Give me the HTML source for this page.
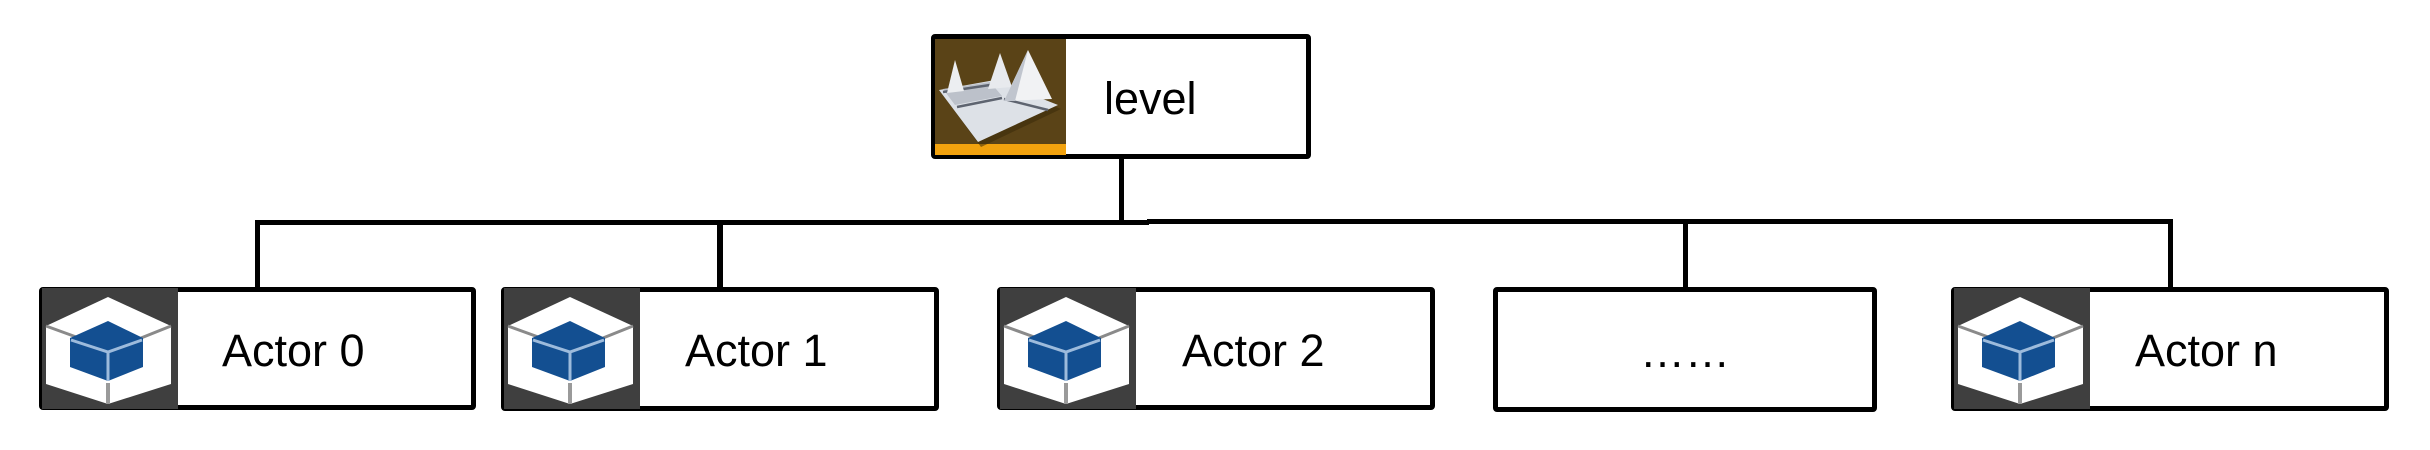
<!DOCTYPE html>
<html>
<head>
<meta charset="utf-8">
<style>
html,body{margin:0;padding:0;background:#fff;}
body{width:2430px;height:450px;overflow:hidden;}
svg{display:block;}
text{font-family:"Liberation Sans", Arial, sans-serif;font-size:45px;fill:#000;}
</style>
</head>
<body>
<svg width="2430" height="450" viewBox="0 0 2430 450" xmlns="http://www.w3.org/2000/svg">
  <defs>
    <g id="cube">
      <rect x="3" y="1" width="136" height="121" fill="#3f3f3f"/>
      <polygon points="69,10 132,39 132,97 69,117 7,97 7,39" fill="#ffffff"/>
      <line x1="7" y1="39" x2="40" y2="51" stroke="#8a8a8a" stroke-width="3"/>
      <line x1="132" y1="39" x2="102" y2="51" stroke="#8a8a8a" stroke-width="3"/>
      <line x1="69" y1="96" x2="69" y2="117" stroke="#9a9a9a" stroke-width="4"/>
      <polygon points="69,34 104,51 104,80 69,94 31,80 31,51" fill="#134f91"/>
      <polyline points="32,53 69,65 103,53" fill="none" stroke="#9dbbdc" stroke-width="3"/>
      <line x1="69" y1="65" x2="69" y2="94" stroke="#9dbbdc" stroke-width="3"/>
    </g>
  </defs>

  <!-- connectors -->
  <rect x="1119" y="159" width="5" height="64" fill="#000"/>
  <rect x="255" y="220" width="894" height="5" fill="#000"/>
  <rect x="1147" y="219" width="1026" height="5" fill="#000"/>
  <rect x="255" y="220" width="5" height="68" fill="#000"/>
  <rect x="717" y="222" width="6" height="66" fill="#000"/>
  <rect x="1683" y="222" width="5" height="66" fill="#000"/>
  <rect x="2168" y="220" width="5" height="68" fill="#000"/>

  <!-- level node -->
  <rect x="933.5" y="36.5" width="375" height="120" fill="#fff" stroke="#000" stroke-width="5" rx="1.5"/>
  <rect x="935" y="39" width="131" height="116" fill="#5a4317"/>
  <rect x="935" y="144" width="131" height="11" fill="#f2a20e"/>
  <!-- level icon terrain -->
  <polygon points="939,90 995,80 1058,105 978,143" fill="#3a2a0a" opacity="0.55" transform="translate(3,4)"/>
  <polygon points="939,90 995,80 1058,105 978,142" fill="#dde1e7"/>
  <polygon points="943,89 990,82 1002,96 955,105" fill="#bcc1ca"/>
  <line x1="943" y1="92" x2="990" y2="85" stroke="#5e6470" stroke-width="2.5"/>
  <line x1="957" y1="107" x2="1002" y2="98" stroke="#5e6470" stroke-width="2.5"/>
  <line x1="1004" y1="99" x2="1048" y2="110" stroke="#5e6470" stroke-width="2.5"/>
  <polygon points="955,60 964,91 947,93" fill="#eceef1"/>
  <polygon points="1000,53 1012,87 988,89" fill="#e8eaee"/>
  <polygon points="1028,50 1052,99 1004,101" fill="#f1f2f4"/>
  <polygon points="1028,50 1004,101 1015,101" fill="#c0c5ce"/>
  <text x="1104" y="114">level</text>

  <!-- Actor 0 -->
  <rect x="41.5" y="289.5" width="432" height="118" fill="#fff" stroke="#000" stroke-width="5" rx="1.5"/>
  <use href="#cube" x="39" y="287"/>
  <text x="222" y="366">Actor 0</text>

  <!-- Actor 1 -->
  <rect x="503.5" y="289.5" width="433" height="119" fill="#fff" stroke="#000" stroke-width="5" rx="1.5"/>
  <use href="#cube" x="501" y="287"/>
  <text x="685" y="366">Actor 1</text>

  <!-- Actor 2 -->
  <rect x="999.5" y="289.5" width="433" height="118" fill="#fff" stroke="#000" stroke-width="5" rx="1.5"/>
  <use href="#cube" x="997" y="287"/>
  <text x="1182" y="366">Actor 2</text>

  <!-- ...... -->
  <rect x="1495.5" y="289.5" width="379" height="120" fill="#fff" stroke="#000" stroke-width="5" rx="1.5"/>
  <text x="1640" y="367">……</text>

  <!-- Actor n -->
  <rect x="1953.5" y="289.5" width="433" height="119" fill="#fff" stroke="#000" stroke-width="5" rx="1.5"/>
  <use href="#cube" x="1951" y="287"/>
  <text x="2135" y="366">Actor n</text>
</svg>
</body>
</html>
